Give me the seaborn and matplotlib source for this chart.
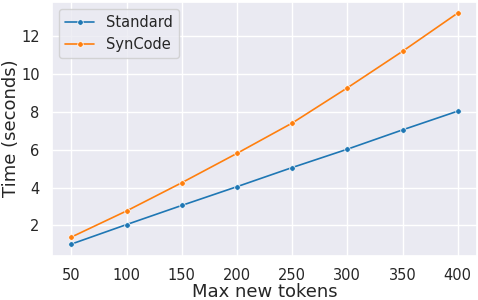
import pandas as pd
import matplotlib
matplotlib.use("Agg")
import matplotlib.pyplot as plt
import seaborn as sns

# --------------------------------------------------------------
# Data
# --------------------------------------------------------------
max_new_tokens = [50, 100, 150, 200, 250, 300, 350, 400]
standard_time = [1.02, 2.05, 3.06, 4.05, 5.06, 6.03, 7.05, 8.04]
syncode_time = [1.39, 2.77, 4.26, 5.81, 7.41, 9.27, 11.2, 13.22]

df = pd.DataFrame({
    "Max new tokens": max_new_tokens * 2,
    "Time (seconds)": standard_time + syncode_time,
    "method": ["Standard"] * len(max_new_tokens) + ["SynCode"] * len(max_new_tokens),
})

sns.set_theme(style="darkgrid")

fig, ax = plt.subplots(figsize=(4.78, 3.0), dpi=100)
sns.lineplot(data=df, x="Max new tokens", y="Time (seconds)", hue="method",
             palette="tab10", marker="o", markersize=4, markeredgewidth=0.5,
             linewidth=1.2, ax=ax)

ax.set_xlabel("Max new tokens", fontsize=13, labelpad=0)
ax.set_ylabel("Time (seconds)", fontsize=13, labelpad=1)
ax.tick_params(axis="both", labelsize=10.5, pad=3)
ax.legend(title=None, loc="upper left", fontsize=10.5)

fig.subplots_adjust(left=0.109, right=0.998, top=0.995, bottom=0.148)
fig.savefig("out.png", dpi=100)
